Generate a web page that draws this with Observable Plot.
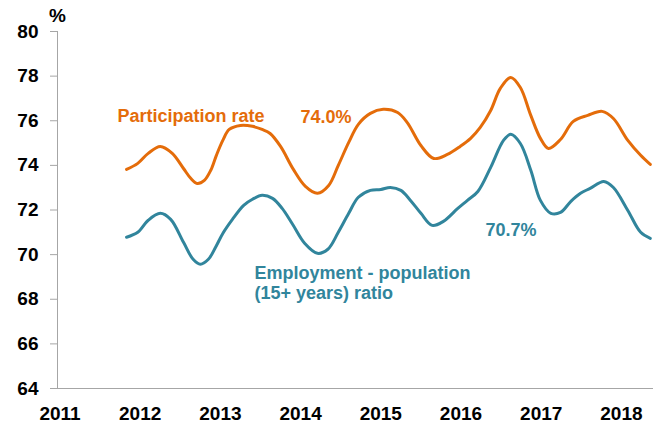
<!DOCTYPE html>
<html><head><meta charset="utf-8">
<script src="https://cdn.jsdelivr.net/npm/d3@7"></script>
<script src="https://cdn.jsdelivr.net/npm/@observablehq/plot@0.6"></script>
<style>body{margin:0;background:#fff}</style>
</head><body><div id="chart"></div>
<script>
// Participation rate (%)
const partYears = [2011.83, 2011.97, 2012.10, 2012.25, 2012.40, 2012.54, 2012.63, 2012.71, 2012.80, 2012.88, 2012.95, 2013.03,
  2013.11, 2013.25, 2013.40, 2013.52, 2013.62, 2013.75, 2013.91, 2014.06, 2014.21, 2014.35, 2014.47, 2014.60, 2014.72,
  2014.87, 2015.03, 2015.21, 2015.33, 2015.50, 2015.66, 2015.83, 2015.99, 2016.12, 2016.24, 2016.37, 2016.49, 2016.62,
  2016.74, 2016.87, 2016.99, 2017.09, 2017.24, 2017.40, 2017.58, 2017.76, 2017.90, 2018.08, 2018.24, 2018.36];
const partValues = [73.82, 74.09, 74.54, 74.85, 74.54, 73.86, 73.42, 73.19, 73.33, 73.78, 74.45, 75.12,
  75.61, 75.79, 75.75, 75.61, 75.43, 74.85, 73.82, 73.06, 72.75, 73.10, 74.00, 75.03, 75.84,
  76.33, 76.51, 76.37, 75.92, 74.89, 74.31, 74.49, 74.85, 75.21, 75.70, 76.46, 77.45, 77.94,
  77.49, 76.24, 75.21, 74.76, 75.16, 75.97, 76.24, 76.42, 76.10, 75.12, 74.45, 74.04];

// Employment - population (15+ years) ratio (%)
const empYears = [2011.83, 2011.97, 2012.10, 2012.25, 2012.38, 2012.54, 2012.66, 2012.75, 2012.85, 2012.94, 2013.03, 2013.15,
  2013.29, 2013.40, 2013.52, 2013.65, 2013.77, 2013.90, 2014.05, 2014.21, 2014.34, 2014.47, 2014.60, 2014.72, 2014.87,
  2015.00, 2015.12, 2015.25, 2015.37, 2015.50, 2015.64, 2015.78, 2015.96, 2016.08, 2016.21, 2016.37, 2016.53, 2016.62,
  2016.74, 2016.87, 2016.99, 2017.12, 2017.24, 2017.37, 2017.49, 2017.61, 2017.78, 2017.90, 2018.08, 2018.24, 2018.36];
const empValues = [70.78, 71.00, 71.54, 71.85, 71.58, 70.55, 69.79, 69.57, 69.79, 70.33, 70.95, 71.58,
  72.21, 72.48, 72.66, 72.52, 72.07, 71.36, 70.51, 70.06, 70.24, 71.00, 71.85, 72.57, 72.88,
  72.92, 73.01, 72.88, 72.43, 71.85, 71.31, 71.49, 72.07, 72.43, 72.83, 73.91, 75.12, 75.39,
  74.98, 73.78, 72.43, 71.85, 71.89, 72.39, 72.75, 72.97, 73.28, 73.01, 71.98, 71.00, 70.73];

const yearTicks = [2011, 2012, 2013, 2014, 2015, 2016, 2017, 2018];
const pctTicks = [64, 66, 68, 70, 72, 74, 76, 78, 80];

// Annotations
const noteTexts = ["Participation rate", "74.0%", "70.7%", "Employment - population\n(15+ years) ratio"];
const noteX = [2011.717, 2014.317, 2016.623, 2013.425];
const noteY = [76.60, 76.46, 71.40, 69.57];
const noteAnchor = ["start", "middle", "middle", "start"];
const noteSeries = ["part", "part", "emp", "emp"];

const ORANGE = "#E46C0A", TEAL = "#31859C", AXIS = "#a6a6a6";
const colorOf = s => s === "part" ? ORANGE : TEAL;

const part = partYears.map((x, i) => ({x, y: partValues[i]}));
const emp = empYears.map((x, i) => ({x, y: empValues[i]}));
const notes = noteTexts.map((t, i) => ({t, x: noteX[i], y: noteY[i], a: noteAnchor[i], c: colorOf(noteSeries[i])}));

const xDomain = [2010.969, 2018.40];

const chart = Plot.plot({
  width: 653, height: 426,
  marginLeft: 57, marginRight: 0, marginTop: 31, marginBottom: 38,
  style: {fontFamily: "'Liberation Sans', Arial, sans-serif", fontWeight: "bold", background: "#fff", color: "#000"},
  x: {domain: xDomain},
  y: {domain: [64, 80]},
  marks: [
    Plot.ruleX([xDomain[0]], {stroke: AXIS, strokeWidth: 1}),
    Plot.ruleY([64], {stroke: AXIS, strokeWidth: 1}),
    Plot.axisY({ticks: pctTicks, tickSize: 7, tickPadding: 12, fontSize: 19, stroke: AXIS, fill: "#000", label: null}),
    Plot.axisX({ticks: yearTicks, tickSize: 0, tickPadding: 18, fontSize: 19, tickFormat: d => String(d), fill: "#000", label: null}),
    Plot.text(["%"], {text: d => d, frameAnchor: "top-left", textAnchor: "middle", lineAnchor: "top", dy: -23, fontSize: 19, fill: "#000"}),
    Plot.line(part, {x: "x", y: "y", stroke: ORANGE, strokeWidth: 3, curve: "catmull-rom"}),
    Plot.line(emp, {x: "x", y: "y", stroke: TEAL, strokeWidth: 3, curve: "catmull-rom"}),
    Plot.text(notes.filter(d => d.a === "start"), {x: "x", y: "y", text: "t", fill: "c", textAnchor: "start", lineAnchor: "top", fontSize: 18, lineHeight: 1.12}),
    Plot.text(notes.filter(d => d.a === "middle"), {x: "x", y: "y", text: "t", fill: "c", textAnchor: "middle", lineAnchor: "top", fontSize: 18})
  ]
});
document.getElementById("chart").appendChild(chart);
</script>
</body></html>
